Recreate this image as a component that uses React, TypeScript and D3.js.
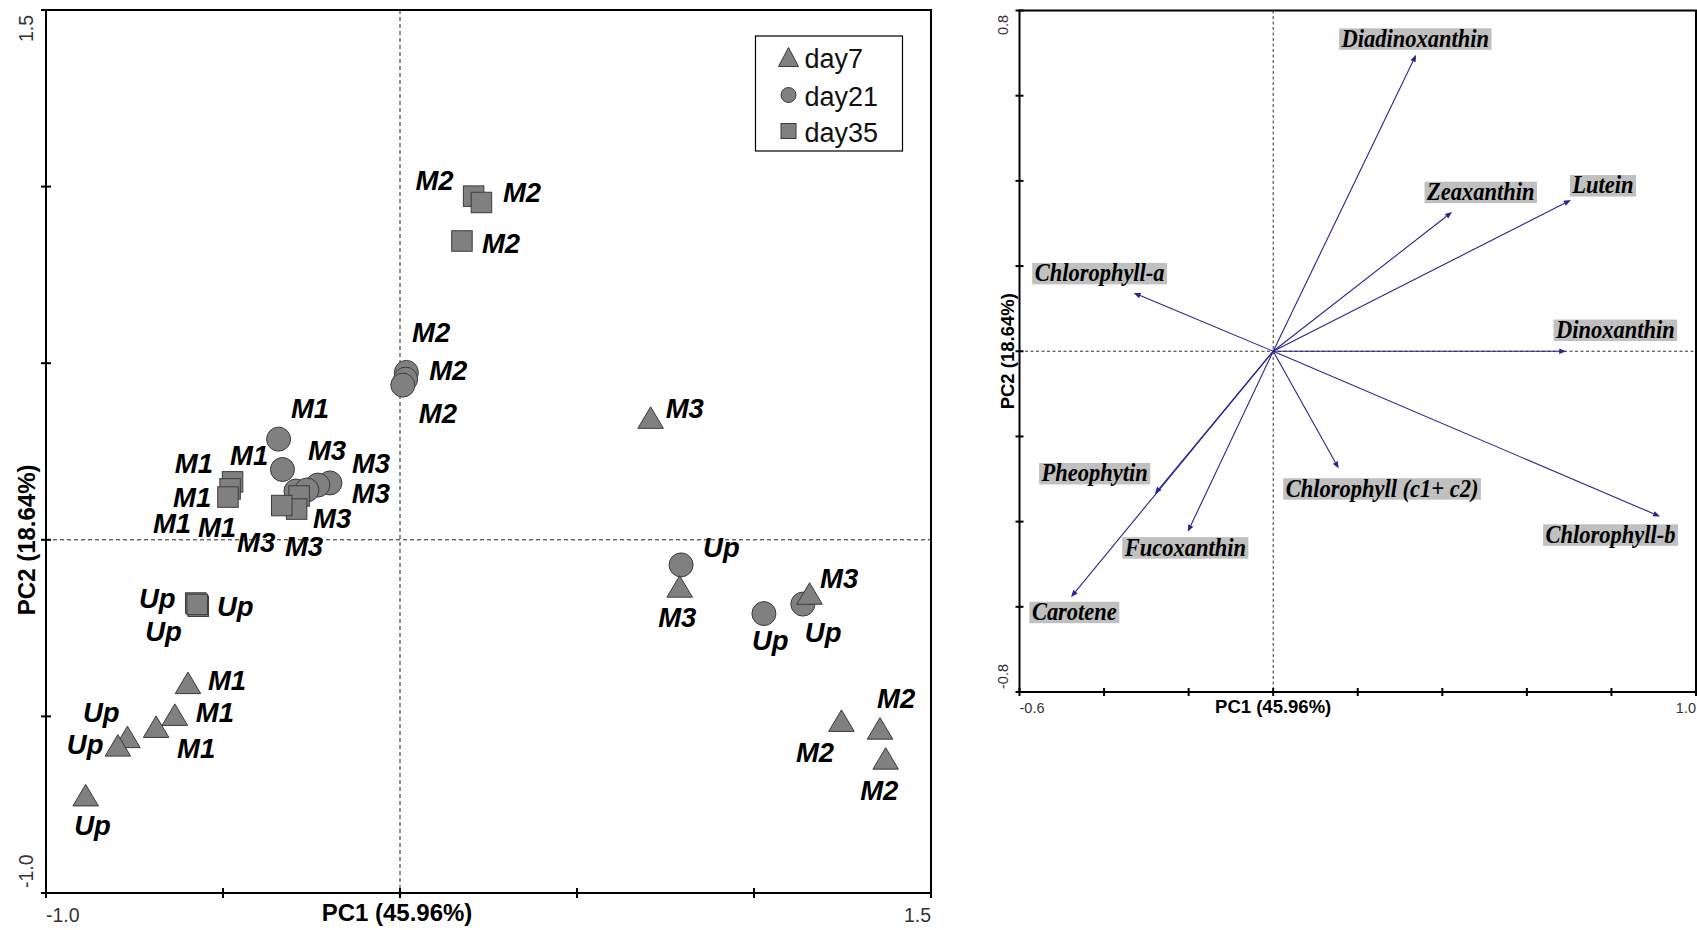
import React, { useEffect, useRef } from "react";
import * as d3 from "d3";

// ---------- Sample scores (PCA, left panel) ----------
const sites = ["Up", "Up", "Up", "M1", "M1", "M1", "M2", "M2", "M2", "M3", "M3", "M3"];
const dayNames = ["day7", "day21", "day35"];

const day7PC1 = [-0.888, -0.77, -0.797, -0.599, -0.636, -0.689, 1.247, 1.356, 1.372, 0.708, 0.79, 1.157];
const day7PC2 = [-0.723, -0.558, -0.582, -0.405, -0.495, -0.529, -0.512, -0.534, -0.619, 0.346, -0.132, -0.152];
const day21PC1 = [0.794, 1.028, 1.138, -0.343, -0.332, -0.294, 0.018, 0.016, 0.008, -0.198, -0.232, -0.263];
const day21PC2 = [-0.071, -0.209, -0.182, 0.285, 0.199, 0.138, 0.474, 0.455, 0.438, 0.161, 0.155, 0.141];
const day35PC1 = [-0.577, -0.57, -0.573, -0.473, -0.48, -0.486, 0.208, 0.23, 0.175, -0.285, -0.292, -0.334];
const day35PC2 = [-0.179, -0.188, -0.183, 0.164, 0.144, 0.121, 0.973, 0.955, 0.846, 0.124, 0.087, 0.097];

// label placement (pixel offsets of text start / baseline from the marker)
const labelOffsets7 = [[-11.5, 40], [-44.5, -14.5], [-51, 9], [20, 7], [21, 7.5], [21, 31.5], [-45.5, 41.5], [-3, -20.5], [-25.5, 41.5], [15, 0.5], [-21.5, 40.5], [10.5, -5.5]];
const labelOffsets21 = [[22, -7.5], [-12, 36], [2, 37.5], [12.3, -21], [-52.5, -4.5], [-98, 46], [5.7, -30.5], [23.5, 1], [16, 38], [22, -10], [34, 18], [1, -30]];
const labelOffsets35 = [[-56.8, 4.5], [18.7, 10.2], [-52, 37], [-57.7, -9], [-57, 18], [-75, 36], [-58.2, -6], [21.5, -0.5], [20, 12], [14, 32], [-11.7, 47], [-44.7, 46.5]];

const leftTicks = [-1.0, -0.5, 0, 0.5, 1.0, 1.5];

// ---------- Pigment loadings (right panel) ----------
const pigments = ["Diadinoxanthin", "Zeaxanthin", "Lutein", "Chlorophyll-a", "Dinoxanthin", "Pheophytin", "Fucoxanthin", "Chlorophyll (c1+ c2)", "Chlorophyll-b", "Carotene"];
const loadPC1 = [0.338, 0.423, 0.704, -0.33, 0.693, -0.28, -0.202, 0.155, 0.915, -0.478];
const loadPC2 = [0.696, 0.327, 0.355, 0.137, 0.0, -0.335, -0.424, -0.275, -0.388, -0.577];
const pigmentLabelOffsets = [[-77, -26.5], [-27.5, -30.3], [-1, -25], [-101.5, -30], [-12.7, -31.7], [-115.7, -31], [-65.6, 5.3], [-55.5, 9.8], [-117, 7.8], [-41.7, 4.7]];

const rightXTicks = [-0.6, -0.4, -0.2, 0, 0.2, 0.4, 0.6, 0.8, 1.0];
const rightYTicks = [-0.8, -0.6, -0.4, -0.2, 0, 0.2, 0.4, 0.6, 0.8];

const SANS = "'Liberation Sans', Arial, sans-serif";
const SERIF = "'Liberation Serif', 'Times New Roman', serif";

export default function App() {
  const ref = useRef<SVGSVGElement>(null);

  useEffect(() => {
    const svg = d3.select(ref.current);
    svg.selectAll("*").remove();

    // ================= LEFT PANEL =================
    const xL = d3.scaleLinear().domain([-1, 1.5]).range([46, 931]);
    const yL = d3.scaleLinear().domain([-1, 1.5]).range([893, 10]);
    const gL = svg.append("g");

    gL.append("line").attr("x1", xL(0)).attr("x2", xL(0)).attr("y1", yL(1.5)).attr("y2", yL(-1))
      .attr("stroke", "#222").attr("stroke-dasharray", "4,3").attr("stroke-width", 1);
    gL.append("line").attr("x1", xL(-1)).attr("x2", xL(1.5)).attr("y1", yL(0)).attr("y2", yL(0))
      .attr("stroke", "#222").attr("stroke-dasharray", "4,3").attr("stroke-width", 1);

    const fill = "#808080";
    const stroke = "#3a3a3a";
    const triPath = (w: number, h: number) => `M0,${-h / 2}L${w / 2},${h / 2}L${-w / 2},${h / 2}Z`;

    const series = [
      { name: dayNames[0], pc1: day7PC1, pc2: day7PC2, offs: labelOffsets7, shape: "triangle" },
      { name: dayNames[1], pc1: day21PC1, pc2: day21PC2, offs: labelOffsets21, shape: "circle" },
      { name: dayNames[2], pc1: day35PC1, pc2: day35PC2, offs: labelOffsets35, shape: "square" },
    ];
    const drawOrder = [1, 0, 2];
    const gMarks = gL.append("g");
    drawOrder.forEach((si) => {
      const s = series[si];
      s.pc1.forEach((v, i) => {
        const cx = xL(v), cy = yL(s.pc2[i]);
        if (s.shape === "triangle") {
          gMarks.append("path").attr("d", triPath(25.5, 21.5)).attr("transform", `translate(${cx},${cy})`)
            .attr("fill", fill).attr("stroke", stroke).attr("stroke-width", 1);
        } else if (s.shape === "circle") {
          gMarks.append("circle").attr("cx", cx).attr("cy", cy).attr("r", 12)
            .attr("fill", fill).attr("stroke", stroke).attr("stroke-width", 1);
        } else {
          gMarks.append("rect").attr("x", cx - 10.25).attr("y", cy - 10.25).attr("width", 20.5).attr("height", 20.5)
            .attr("fill", fill).attr("stroke", stroke).attr("stroke-width", 1);
        }
      });
    });
    const gLab = gL.append("g");
    series.forEach((s) => {
      s.pc1.forEach((v, i) => {
        gLab.append("text").attr("x", xL(v) + s.offs[i][0]).attr("y", yL(s.pc2[i]) + s.offs[i][1])
          .attr("font-family", SANS).attr("font-size", 27.5).attr("font-weight", "bold").attr("font-style", "italic")
          .attr("fill", "#000").text(sites[i]);
      });
    });

    // frame
    gL.append("rect").attr("x", xL(-1)).attr("y", yL(1.5)).attr("width", xL(1.5) - xL(-1)).attr("height", yL(-1) - yL(1.5))
      .attr("fill", "none").attr("stroke", "#000").attr("stroke-width", 2);
    leftTicks.forEach((t) => {
      gL.append("line").attr("x1", xL(-1) - 5).attr("x2", xL(-1) + 5).attr("y1", yL(t)).attr("y2", yL(t))
        .attr("stroke", "#000").attr("stroke-width", 2);
      gL.append("line").attr("x1", xL(t)).attr("x2", xL(t)).attr("y1", yL(-1) - 5).attr("y2", yL(-1) + 5)
        .attr("stroke", "#000").attr("stroke-width", 2);
    });
    // tick labels
    const tl = (sel: any) => sel.attr("font-family", SANS).attr("font-size", 19.5).attr("fill", "#333");
    tl(gL.append("text").attr("transform", `translate(33,${yL(1.5) + 32}) rotate(-90)`).attr("text-anchor", "start").text("1.5"));
    tl(gL.append("text").attr("transform", `translate(33,${yL(-1) - 5}) rotate(-90)`).attr("text-anchor", "start").text("-1.0"));
    tl(gL.append("text").attr("x", xL(-1)).attr("y", 922).attr("text-anchor", "start").text("-1.0"));
    tl(gL.append("text").attr("x", xL(1.5)).attr("y", 922).attr("text-anchor", "end").text("1.5"));
    // axis titles
    gL.append("text").attr("x", 397).attr("y", 921).attr("text-anchor", "middle").attr("font-family", SANS)
      .attr("font-size", 24).attr("font-weight", "bold").attr("fill", "#000").text("PC1 (45.96%)");
    gL.append("text").attr("transform", `translate(35,${yL(0)}) rotate(-90)`).attr("text-anchor", "middle").attr("font-family", SANS)
      .attr("font-size", 24).attr("font-weight", "bold").attr("fill", "#000").text("PC2 (18.64%)");

    // legend
    const lg = gL.append("g");
    lg.append("rect").attr("x", 755.5).attr("y", 36).attr("width", 147).attr("height", 115)
      .attr("fill", "#fff").attr("stroke", "#000").attr("stroke-width", 1.2);
    const legRows = [57, 95, 131];
    series.forEach((s, k) => {
      const cy = legRows[k];
      if (s.shape === "triangle") {
        lg.append("path").attr("d", triPath(20, 19)).attr("transform", `translate(788.5,${cy})`)
          .attr("fill", fill).attr("stroke", stroke);
      } else if (s.shape === "circle") {
        lg.append("circle").attr("cx", 788.5).attr("cy", cy).attr("r", 7.5).attr("fill", fill).attr("stroke", stroke);
      } else {
        lg.append("rect").attr("x", 781).attr("y", cy - 7.5).attr("width", 15).attr("height", 15).attr("fill", fill).attr("stroke", stroke);
      }
      lg.append("text").attr("x", 804.5).attr("y", cy + 10.5).attr("font-family", SANS).attr("font-size", 27)
        .attr("fill", "#111").text(s.name);
    });

    // ================= RIGHT PANEL =================
    const xR = d3.scaleLinear().domain([-0.6, 1.0]).range([1019.5, 1696]);
    const yR = d3.scaleLinear().domain([-0.8, 0.8]).range([692, 10.5]);
    const gR = svg.append("g");

    gR.append("line").attr("x1", xR(0)).attr("x2", xR(0)).attr("y1", yR(0.8)).attr("y2", yR(-0.8))
      .attr("stroke", "#333").attr("stroke-dasharray", "3,2.5").attr("stroke-width", 1);
    gR.append("line").attr("x1", xR(-0.6)).attr("x2", xR(1.0)).attr("y1", yR(0)).attr("y2", yR(0))
      .attr("stroke", "#333").attr("stroke-dasharray", "3,2.5").attr("stroke-width", 1);

    const navy = "#25258f";
    const gArr = gR.append("g");
    pigments.forEach((p, i) => {
      const x0 = xR(0), y0 = yR(0);
      const x1 = xR(loadPC1[i]), y1 = yR(loadPC2[i]);
      const len = Math.hypot(x1 - x0, y1 - y0);
      const ux = (x1 - x0) / len, uy = (y1 - y0) / len;
      const hl = 7, hw = 2.8;
      const bx = x1 - ux * hl, by = y1 - uy * hl;
      gArr.append("line").attr("x1", x0).attr("y1", y0).attr("x2", bx).attr("y2", by)
        .attr("stroke", navy).attr("stroke-width", 1.1);
      gArr.append("path")
        .attr("d", `M${x1},${y1}L${bx - uy * hw},${by + ux * hw}L${bx + uy * hw},${by - ux * hw}Z`)
        .attr("fill", navy);
    });

    const gPl = gR.append("g");
    const sx = 0.9;
    pigments.forEach((p, i) => {
      const bx = xR(loadPC1[i]) + pigmentLabelOffsets[i][0];
      const by = yR(loadPC2[i]) + pigmentLabelOffsets[i][1];
      const rect = gPl.append("rect").attr("x", bx).attr("y", by).attr("height", 21.5).attr("fill", "#c0c0c0");
      const t = gPl.append("text").attr("x", 0).attr("y", 0)
        .attr("transform", `translate(${bx + 2.5},${by + 18.4}) scale(${sx},1)`)
        .attr("font-family", SERIF).attr("font-size", 25).attr("font-weight", "bold").attr("font-style", "italic")
        .attr("fill", "#000").text(p);
      const node = t.node() as SVGTextElement;
      let w = 100;
      try { w = node.getComputedTextLength(); } catch (e) { w = p.length * 10; }
      rect.attr("width", w * sx + 5);
    });

    gR.append("rect").attr("x", xR(-0.6)).attr("y", yR(0.8)).attr("width", xR(1.0) - xR(-0.6)).attr("height", yR(-0.8) - yR(0.8))
      .attr("fill", "none").attr("stroke", "#000").attr("stroke-width", 2);
    rightYTicks.forEach((t) => {
      gR.append("line").attr("x1", xR(-0.6) - 4).attr("x2", xR(-0.6) + 4).attr("y1", yR(t)).attr("y2", yR(t))
        .attr("stroke", "#000").attr("stroke-width", 2);
    });
    rightXTicks.forEach((t) => {
      gR.append("line").attr("x1", xR(t)).attr("x2", xR(t)).attr("y1", yR(-0.8) - 4).attr("y2", yR(-0.8) + 4)
        .attr("stroke", "#000").attr("stroke-width", 2);
    });
    const tr = (sel: any) => sel.attr("font-family", SANS).attr("font-size", 14.5).attr("fill", "#333");
    tr(gR.append("text").attr("x", xR(-0.6)).attr("y", 713).attr("text-anchor", "start").text("-0.6"));
    tr(gR.append("text").attr("x", xR(1.0)).attr("y", 713).attr("text-anchor", "end").text("1.0"));
    tr(gR.append("text").attr("transform", `translate(1008,35) rotate(-90)`).attr("text-anchor", "start").text("0.8"));
    tr(gR.append("text").attr("transform", `translate(1008,689) rotate(-90)`).attr("text-anchor", "start").text("-0.8"));
    gR.append("text").attr("x", xR(0)).attr("y", 713).attr("text-anchor", "middle").attr("font-family", SANS)
      .attr("font-size", 18.5).attr("font-weight", "bold").attr("fill", "#000").text("PC1 (45.96%)");
    gR.append("text").attr("transform", `translate(1014,${yR(0)}) rotate(-90)`).attr("text-anchor", "middle").attr("font-family", SANS)
      .attr("font-size", 18.5).attr("font-weight", "bold").attr("fill", "#000").text("PC2 (18.64%)");
  }, []);

  return (
    <svg ref={ref} width={1697} height={930}
      style={{ position: "absolute", left: 0, top: 0, background: "#fff", display: "block" }} />
  );
}
